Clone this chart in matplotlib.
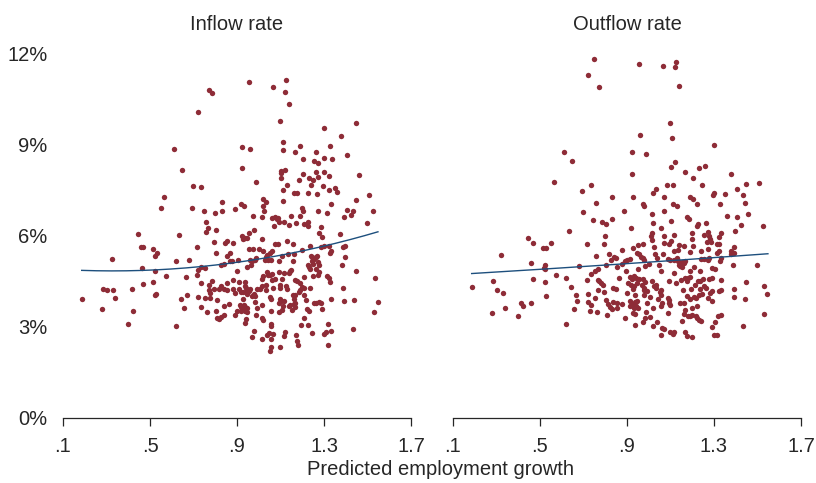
import matplotlib

matplotlib.use("Agg")
import matplotlib.pyplot as plt
import numpy as np

plt.rcParams.update({"font.family": ["Liberation Sans", "DejaVu Sans"]})

DOT = "#8e2c37"
FIT = "#1d4f7d"
INK = "#262626"

# predicted employment growth vs. rate (%)
inflow_pts = np.array([
    (0.771, 10.80), (0.787, 10.71), (0.721, 10.08), (0.609, 8.88), (0.645, 8.16),
    (0.696, 7.66), (0.733, 7.62), (0.565, 7.29), (0.549, 6.92), (0.692, 6.91),
    (0.747, 6.81), (0.798, 6.75), (0.831, 6.81), (0.831, 7.11),
    (0.955, 11.08), (1.065, 10.92), (1.125, 11.13), (1.119, 10.75), (1.139, 10.36),
    (1.099, 9.78), (1.446, 9.73), (1.300, 9.57), (1.376, 9.30), (1.110, 9.10),
    (0.921, 8.93), (0.959, 8.87), (1.190, 8.97), (1.113, 8.82), (1.168, 8.77),
    (1.264, 8.78), (1.328, 8.97), (1.406, 8.67), (1.205, 8.54), (1.254, 8.48),
    (1.274, 8.39), (1.302, 8.57), (1.337, 8.55), (0.922, 8.24), (1.102, 8.14),
    (1.121, 8.19), (1.104, 8.07), (1.102, 7.91), (1.262, 8.12), (1.302, 8.11),
    (1.204, 8.05), (1.273, 7.96), (1.325, 7.99), (1.459, 8.01), (1.233, 7.91),
    (1.248, 7.84), (1.187, 7.83), (0.988, 7.79), (1.131, 7.69), (1.240, 7.67),
    (1.297, 7.66), (1.350, 7.57), (1.359, 7.44), (1.110, 7.52), (1.323, 7.52),
    (1.161, 7.41), (1.176, 7.41), (1.225, 7.43), (1.270, 7.39), (1.506, 7.35),
    (1.019, 7.23), (1.035, 7.11), (1.111, 7.16), (1.445, 7.20), (0.919, 7.04),
    (0.933, 6.99), (1.018, 7.00), (0.890, 6.90), (1.330, 7.05), (1.199, 6.91),
    (1.202, 6.82), (1.022, 6.82), (1.274, 6.84), (1.314, 6.76), (1.406, 6.86),
    (1.434, 6.84), (1.526, 6.81), (1.423, 6.69), (0.975, 6.67), (1.015, 6.61),
    (1.062, 6.60), (1.074, 6.63), (1.087, 6.60), (1.148, 6.65), (1.191, 6.66),
    (1.393, 6.62),
    (0.447, 6.08), (0.635, 6.02), (0.758, 6.45), (0.767, 6.26), (0.759, 6.14),
    (0.802, 6.19), (0.459, 5.65), (0.467, 5.65), (0.516, 5.57), (0.530, 5.44),
    (0.524, 5.34), (0.715, 5.63), (0.793, 5.79), (0.845, 5.76), (0.856, 5.82),
    (0.805, 5.44), (0.867, 5.45), (0.323, 5.25), (0.618, 5.16), (0.681, 5.21),
    (0.853, 5.33), (0.870, 5.19), (0.463, 4.95), (0.524, 4.85), (0.719, 4.89),
    (0.736, 4.99), (0.755, 4.93), (0.827, 5.06), (0.841, 5.09), (0.718, 4.72),
    (0.573, 4.69), (0.667, 4.64), (0.284, 4.24), (0.303, 4.22), (0.332, 4.21),
    (0.415, 4.25), (0.466, 4.43), (0.516, 4.48), (0.735, 4.46), (0.770, 4.39),
    (0.787, 4.50), (0.856, 4.46), (0.770, 4.23), (0.796, 4.25), (0.818, 4.26),
    (0.828, 4.35), (0.842, 4.25), (0.856, 4.22), (0.776, 4.13), (0.187, 3.92),
    (0.338, 3.97), (0.529, 4.08), (0.521, 4.04), (0.642, 3.91), (0.672, 4.05),
    (0.721, 3.98), (0.753, 3.97), (0.778, 3.96), (0.807, 3.90), (0.280, 3.58),
    (0.420, 3.52), (0.658, 3.61), (0.733, 3.67), (0.762, 3.51), (0.805, 3.53),
    (0.839, 3.68), (0.861, 3.77), (0.807, 3.30), (0.818, 3.27), (0.827, 3.33),
    (0.838, 3.40), (0.398, 3.11), (0.619, 3.03),
    (1.085, 6.56), (1.095, 6.47), (1.116, 6.45), (1.138, 6.36), (1.171, 6.42),
    (1.208, 6.38), (1.227, 6.45), (1.227, 6.32), (1.497, 6.43), (1.068, 6.34),
    (1.287, 6.31), (0.978, 6.21), (0.956, 6.11), (0.925, 6.00), (0.938, 5.95),
    (0.929, 5.90), (0.944, 5.92), (1.013, 5.91), (0.881, 5.76), (1.277, 6.09),
    (1.290, 5.96), (1.374, 6.07), (1.075, 5.74), (1.090, 5.74), (1.131, 5.82),
    (1.158, 5.74), (1.237, 5.68), (1.285, 5.65), (1.299, 5.67), (1.324, 5.67),
    (1.327, 5.43), (1.333, 5.50), (1.388, 5.65), (1.396, 5.68), (1.396, 5.32),
    (0.955, 5.57), (0.973, 5.58), (0.999, 5.57), (1.018, 5.51), (1.050, 5.45),
    (1.062, 5.49), (1.039, 5.37), (1.033, 5.30), (1.105, 5.35), (1.134, 5.40),
    (1.161, 5.40), (1.199, 5.54), (0.987, 5.29), (0.981, 5.22), (0.970, 5.19),
    (0.962, 5.21), (0.904, 5.21), (0.878, 5.19), (1.028, 5.21), (1.042, 5.21),
    (1.055, 5.20), (1.095, 5.19), (1.158, 5.17), (1.239, 5.35), (1.245, 5.30),
    (1.254, 5.25), (1.261, 5.32), (1.270, 5.33), (1.247, 5.16), (1.227, 5.05),
    (1.231, 4.97), (1.236, 4.92), (1.251, 5.07), (1.274, 5.14), (1.276, 5.03),
    (1.265, 4.92), (1.277, 4.81), (0.945, 4.99), (0.901, 4.85), (0.965, 5.03),
    (1.039, 4.82), (1.062, 4.75), (1.051, 4.70), (1.042, 4.70), (1.091, 4.82),
    (1.116, 4.78), (1.138, 4.79), (1.142, 4.85), (1.150, 4.88), (1.105, 4.58),
    (1.073, 4.57), (1.062, 4.56), (1.019, 4.69), (1.016, 4.59), (1.210, 4.66),
    (1.250, 4.69), (1.273, 4.72), (1.316, 4.69), (1.324, 4.62), (1.327, 4.47),
    (1.165, 4.55), (1.174, 4.51), (1.188, 4.46), (1.201, 4.32), (1.190, 4.23),
    (1.187, 4.15), (1.208, 4.28), (1.234, 4.28), (1.125, 4.35), (1.128, 4.26),
    (1.096, 4.37), (1.098, 4.28), (1.065, 4.28), (1.031, 4.39), (1.033, 4.21),
    (1.013, 4.35), (1.005, 4.24), (0.990, 4.26), (0.978, 4.08), (0.985, 4.03),
    (0.967, 4.02), (0.961, 4.25), (0.942, 4.28), (0.935, 4.48), (0.935, 4.35),
    (0.909, 4.48), (0.909, 4.24), (0.919, 4.15), (0.929, 4.14), (0.941, 4.16),
    (0.947, 4.10), (0.955, 4.18), (0.881, 4.54), (0.881, 4.24), (0.893, 4.13),
    (1.388, 4.28), (1.533, 4.63), (1.445, 4.83), (1.382, 5.06), (1.159, 4.04),
    (1.167, 4.06), (1.161, 3.93), (1.210, 4.06), (1.219, 3.88), (1.051, 4.00),
    (1.058, 3.93), (1.098, 3.92), (1.102, 3.87), (1.093, 3.79), (1.116, 3.85),
    (1.113, 3.68), (1.139, 3.68), (1.145, 3.72), (1.162, 3.76), (1.168, 3.79),
    (1.168, 3.66), (1.154, 3.56), (1.055, 3.53), (1.093, 3.49), (1.105, 3.56),
    (1.015, 3.72), (0.990, 3.63), (0.984, 3.84), (0.929, 3.91), (0.930, 3.73),
    (0.939, 3.66), (0.947, 3.64), (0.916, 3.72), (0.919, 3.65), (0.933, 3.56),
    (0.936, 3.53), (0.945, 3.51), (0.919, 3.54), (0.901, 3.54), (0.889, 3.41),
    (1.262, 3.80), (1.276, 3.82), (1.285, 3.80), (1.293, 3.58), (1.222, 3.59),
    (1.230, 3.54), (1.208, 3.29), (1.193, 3.08), (1.225, 3.07), (1.256, 3.78),
    (1.333, 3.92), (1.393, 3.85), (1.440, 3.90), (1.548, 3.82), (1.529, 3.50),
    (1.434, 2.93), (1.317, 3.10), (1.333, 2.88), (1.299, 2.78), (1.307, 2.82),
    (1.319, 2.39), (0.942, 3.27), (0.938, 3.13), (0.988, 3.39), (1.013, 3.31),
    (1.019, 3.24), (1.058, 3.09), (1.055, 3.04), (0.978, 2.87), (0.968, 2.68),
    (1.016, 2.59), (1.038, 2.75), (1.045, 2.81), (1.067, 2.76), (1.055, 2.60),
    (1.096, 2.35), (1.055, 2.33), (1.051, 2.22), (1.116, 2.71), (1.121, 2.82),
    (1.170, 2.72), (1.178, 2.55), (1.179, 2.39), (1.244, 2.81),
])

outflow_pts = np.array([
    (0.750, 11.83), (0.721, 11.31), (0.770, 10.90), (0.609, 8.78), (0.645, 8.47),
    (0.564, 7.77), (0.733, 7.69), (0.692, 7.48), (0.830, 7.29), (0.758, 7.09),
    (0.696, 6.79),
    (0.953, 11.67), (1.065, 11.61), (1.125, 11.74), (1.119, 11.56), (1.139, 10.94),
    (1.098, 9.72), (0.958, 9.32), (1.108, 9.23), (1.300, 9.00), (0.922, 8.78),
    (0.987, 8.69), (1.121, 8.44), (1.102, 8.29), (1.231, 8.24), (1.261, 8.32),
    (0.921, 8.05), (1.167, 8.11), (1.202, 7.90), (1.376, 8.05), (1.084, 7.68),
    (1.110, 7.69), (1.245, 7.69), (1.033, 7.54), (1.019, 7.41), (1.446, 7.70),
    (1.505, 7.74), (1.407, 7.54), (1.434, 7.34), (1.302, 7.43), (1.296, 7.34),
    (1.350, 7.39), (0.930, 7.30), (1.068, 7.28), (1.188, 7.28), (1.204, 7.23),
    (0.973, 7.07), (0.978, 7.00), (1.110, 7.07), (1.130, 7.00), (1.224, 7.05),
    (1.327, 7.05), (1.443, 7.10), (0.887, 6.83), (1.016, 6.71), (1.070, 6.81),
    (1.174, 6.63), (1.187, 6.57), (1.359, 6.66), (1.405, 6.61), (1.457, 6.73),
    (0.745, 6.52), (0.787, 6.47), (0.802, 6.40), (0.830, 6.56), (0.633, 6.16),
    (0.798, 6.01), (0.447, 5.93), (0.466, 5.77), (0.549, 5.78), (0.516, 5.62),
    (0.530, 5.59), (0.715, 5.72), (0.793, 5.72), (0.323, 5.37), (0.756, 5.35),
    (0.816, 5.42), (0.842, 5.30), (0.851, 5.29), (0.828, 5.22), (0.458, 5.10),
    (0.524, 5.05), (0.518, 4.96), (0.524, 4.90), (0.681, 5.00), (0.804, 5.03),
    (0.767, 4.92), (0.752, 4.83), (0.733, 4.75), (0.856, 4.98), (0.862, 4.62),
    (0.573, 4.73), (0.618, 4.62), (0.466, 4.59), (0.716, 4.54), (0.767, 4.56),
    (0.773, 4.50), (0.781, 4.46), (0.788, 4.40), (0.283, 4.52), (0.186, 4.32),
    (0.301, 4.21), (0.332, 4.12), (0.521, 4.47), (0.642, 4.32), (0.768, 4.23),
    (0.795, 4.14), (0.838, 4.29), (0.851, 4.24), (0.527, 4.02), (0.667, 4.05),
    (0.721, 4.08), (0.752, 3.96), (0.719, 3.84), (0.672, 3.86), (0.735, 3.74),
    (0.804, 3.90), (0.838, 3.82), (0.853, 3.78), (0.815, 3.77), (0.822, 3.65),
    (0.833, 3.60), (0.855, 3.62), (0.415, 3.79), (0.461, 3.78), (0.420, 3.68),
    (0.338, 3.62), (0.280, 3.45), (0.398, 3.37), (0.656, 3.58), (0.732, 3.53),
    (0.762, 3.49), (0.807, 3.39), (0.618, 3.09),
    (0.919, 6.28), (1.021, 6.42), (1.056, 6.28), (1.102, 6.50), (1.224, 6.32),
    (1.227, 6.38), (1.264, 6.44), (1.423, 6.37), (1.525, 6.33), (1.396, 6.15),
    (1.015, 6.09), (1.012, 6.01), (1.013, 5.88), (1.070, 6.01), (1.114, 6.03),
    (1.070, 5.77), (1.095, 5.72), (1.102, 5.82), (1.201, 6.09), (1.199, 5.90),
    (1.254, 6.03), (1.273, 6.12), (1.276, 6.01), (1.282, 5.90), (1.270, 5.79),
    (1.288, 5.81), (1.333, 6.09), (1.325, 5.98), (1.316, 5.75), (1.324, 5.75),
    (1.205, 5.68), (1.138, 5.70), (1.161, 5.68), (1.136, 5.53), (1.116, 5.49),
    (1.025, 5.65), (0.973, 5.73), (0.952, 5.70), (0.929, 5.61), (0.879, 5.55),
    (1.191, 5.46), (1.241, 5.51), (1.271, 5.57), (1.376, 5.41), (1.380, 5.50),
    (1.393, 5.65), (1.390, 5.45), (1.313, 5.44), (1.324, 5.49), (1.333, 5.27),
    (1.328, 5.16), (1.387, 5.06), (1.497, 5.06), (0.944, 5.44), (0.953, 5.39),
    (0.964, 5.32), (0.972, 5.27), (0.979, 5.22), (1.028, 5.39), (1.038, 5.29),
    (1.067, 5.41), (1.087, 5.25), (1.099, 5.22), (1.114, 5.22), (1.131, 5.27),
    (1.134, 5.19), (1.142, 5.09), (1.151, 5.14), (1.161, 5.10), (1.168, 5.16),
    (1.145, 5.02), (1.154, 4.99), (1.141, 5.05), (1.242, 5.25), (1.256, 5.25),
    (1.271, 5.22), (1.276, 5.27), (1.047, 5.05), (0.982, 5.02), (1.001, 5.08),
    (0.916, 5.25), (0.902, 5.22), (0.890, 5.19), (0.878, 5.08), (0.896, 4.86),
    (0.950, 4.91), (1.055, 4.86), (1.118, 4.78), (1.207, 4.99), (1.191, 4.85),
    (1.236, 4.86), (1.291, 4.96), (1.305, 4.92), (0.913, 4.64), (0.932, 4.68),
    (0.922, 4.59), (0.941, 4.61), (0.956, 4.57), (0.975, 4.57), (0.984, 4.48),
    (1.016, 4.51), (0.905, 4.46), (0.919, 4.39), (0.933, 4.35), (0.927, 4.26),
    (0.948, 4.44), (0.968, 4.37), (0.976, 4.28), (0.979, 4.22), (0.992, 4.20),
    (1.025, 4.35), (1.035, 4.37), (1.033, 4.27), (1.056, 4.22), (1.051, 4.15),
    (1.093, 4.50), (1.125, 4.44), (1.150, 4.55), (1.165, 4.61), (1.182, 4.61),
    (1.190, 4.66), (1.174, 4.51), (1.214, 4.39), (1.228, 4.50), (1.236, 4.52),
    (1.251, 4.57), (1.276, 4.59), (1.291, 4.62), (1.333, 4.54), (1.156, 4.23),
    (1.193, 4.26), (1.237, 4.26), (1.254, 4.34), (1.264, 4.30), (1.282, 4.11),
    (1.290, 4.19), (1.324, 4.18), (1.331, 4.22), (1.394, 4.24), (1.445, 4.49),
    (1.531, 4.35), (1.546, 4.10), (1.390, 3.99), (1.442, 3.91), (0.899, 4.12),
    (0.935, 4.06), (0.978, 4.05), (1.005, 3.99), (1.055, 4.04), (1.088, 3.96),
    (1.095, 3.88), (1.091, 3.80), (1.098, 3.72), (1.062, 3.78), (1.058, 3.70),
    (1.044, 3.91), (0.936, 3.83), (0.945, 3.87), (0.941, 3.68), (0.932, 3.64),
    (0.952, 3.64), (0.922, 3.75), (0.913, 3.85), (0.916, 3.70), (0.879, 3.76),
    (0.993, 3.78), (1.018, 3.61), (0.988, 3.50), (1.004, 3.32), (0.984, 3.31),
    (0.972, 3.17), (0.936, 3.05), (0.930, 3.47), (0.938, 3.44), (0.889, 3.29),
    (1.142, 3.79), (1.162, 3.79), (1.174, 4.01), (1.191, 3.91), (1.210, 3.99),
    (1.217, 3.97), (1.230, 4.04), (1.245, 4.09), (1.273, 3.97), (1.291, 3.87),
    (1.197, 3.61), (1.222, 3.70), (1.165, 3.57), (1.162, 3.43), (1.179, 3.35),
    (1.188, 3.35), (1.201, 3.40), (1.216, 3.35), (1.224, 3.31), (1.233, 3.23),
    (1.242, 3.20), (1.151, 3.19), (1.090, 3.45), (1.018, 3.03), (1.036, 3.15),
    (1.061, 2.97), (1.055, 2.75), (1.070, 2.93), (1.098, 2.85), (1.116, 2.84),
    (1.113, 2.76), (1.168, 2.82), (1.178, 2.69), (1.201, 2.67), (1.293, 3.00),
    (1.305, 3.15), (1.319, 3.37), (1.333, 3.41), (1.299, 2.75), (1.316, 2.73),
    (1.434, 3.03), (1.528, 3.43),
])

# fitted (quadratic) lines
fit_x = [0.186, 0.393, 0.547, 0.701, 0.855, 0.978, 1.131, 1.285, 1.439, 1.548]
inflow_fit = [4.87, 4.85, 4.90, 4.96, 5.07, 5.21, 5.44, 5.65, 5.90, 6.14]
outflow_fit = [4.77, 4.85, 4.92, 4.98, 5.06, 5.14, 5.21, 5.29, 5.35, 5.41]

panels = [("Inflow rate", inflow_pts, inflow_fit),
          ("Outflow rate", outflow_pts, outflow_fit)]
x_ticks = [0.1, 0.5, 0.9, 1.3, 1.7]
x_labels = [".1", ".5", ".9", "1.3", "1.7"]
y_ticks = [0, 3, 6, 9, 12]
y_labels = ["0%", "3%", "6%", "9%", "12%"]

fig = plt.figure(figsize=(8.16, 4.83), dpi=100)
fig.patch.set_facecolor("white")

lefts = [0.0772, 0.5551]
for i, (title, pts, fit_y) in enumerate(panels):
    ax = fig.add_axes([lefts[i], 0.1346, 0.4265, 0.7536])
    ax.scatter(pts[:, 0], pts[:, 1], s=15, color=DOT, linewidths=0, zorder=3)

    # smooth quadratic through the sampled fit values
    coef = np.polyfit(fit_x, fit_y, 2)
    xs = np.linspace(min(fit_x), max(fit_x), 200)
    ax.plot(xs, np.polyval(coef, xs), color=FIT, linewidth=1.0, zorder=4)

    ax.set_xlim(0.1, 1.7)
    ax.set_ylim(0, 12)
    ax.set_xticks(x_ticks)
    ax.set_xticklabels(x_labels)
    ax.tick_params(axis="x", direction="out", length=5.5, width=0.9,
                   color=INK, labelsize=14.5, labelcolor=INK, pad=8)
    for side in ("top", "right", "left"):
        ax.spines[side].set_visible(False)
    ax.spines["bottom"].set_color(INK)
    ax.spines["bottom"].set_linewidth(0.9)
    if i == 0:
        ax.set_yticks(y_ticks)
        ax.set_yticklabels(y_labels)
        ax.tick_params(axis="y", length=0, labelsize=14.5, labelcolor=INK, pad=11)
    else:
        ax.set_yticks([])
    ax.set_title(title, fontsize=14.5, color=INK, pad=17)

fig.text(0.540, 0.008, "Predicted employment growth", ha="center", va="bottom",
         fontsize=14.5, color=INK)

fig.savefig("out.png", dpi=100, facecolor="white")
